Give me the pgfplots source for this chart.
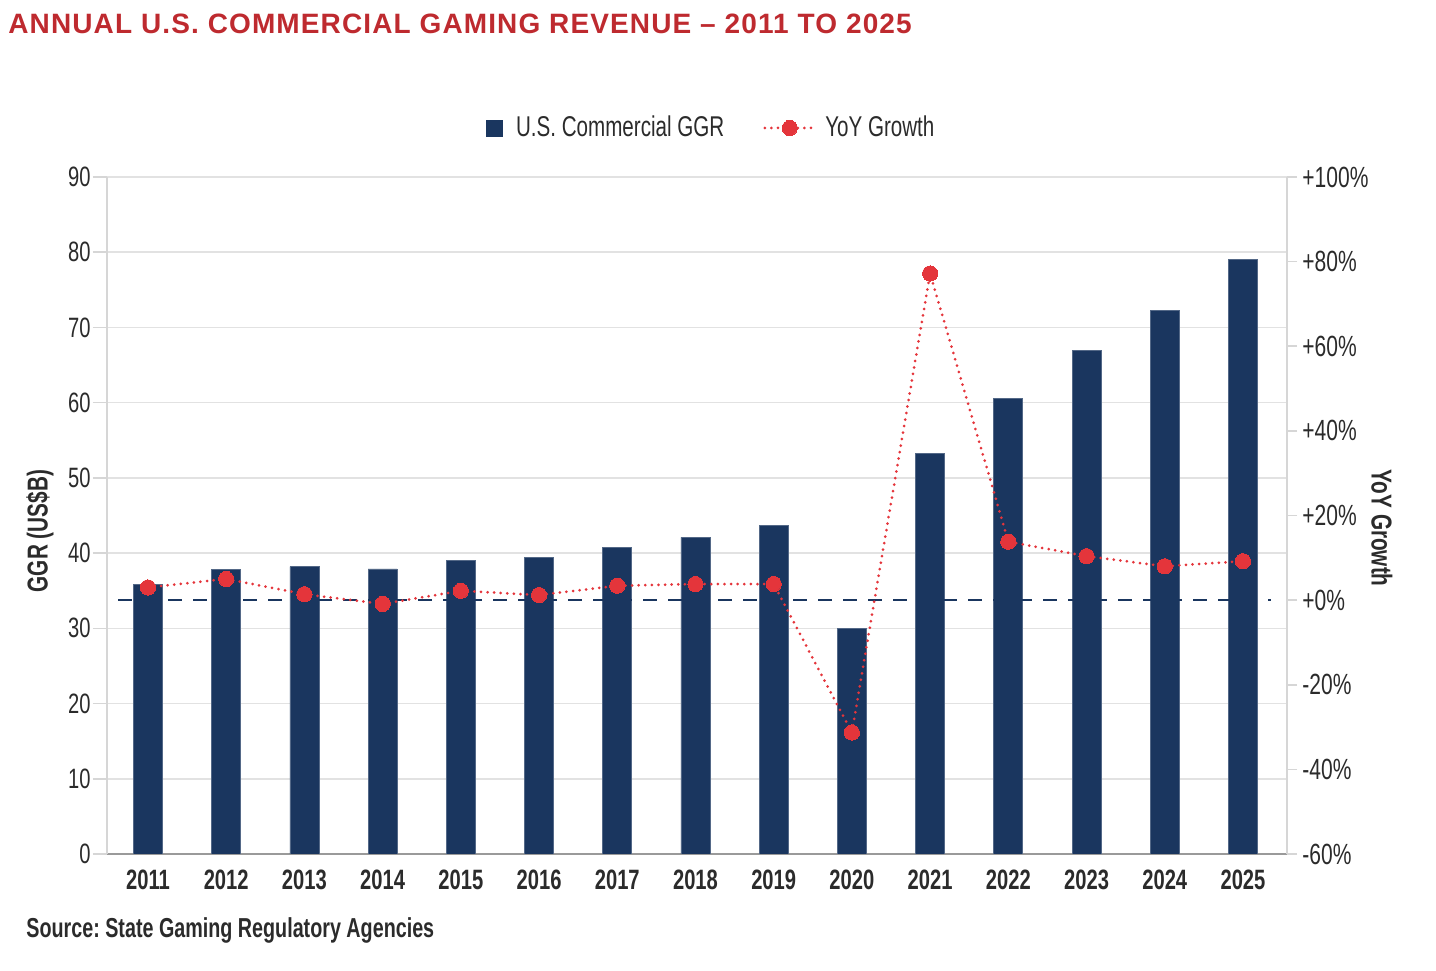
\documentclass[border=0pt]{standalone}
\usepackage{fontspec}
\setmainfont{Liberation Sans}[FakeStretch=0.72]
\newfontfamily\titlefont{Liberation Sans}[LetterSpace=4.0]
\usepackage{pgfplots}
\usepackage{pgfplotstable}
\pgfplotsset{compat=1.18}
\definecolor{navy}{HTML}{1A365F}
\definecolor{redline}{HTML}{E4353B}
\definecolor{titlered}{HTML}{BE2A2F}
\definecolor{txt}{HTML}{2B2B2B}
\definecolor{gridc}{HTML}{E2E2E2}
\definecolor{axisc}{HTML}{D6D6D6}
\definecolor{botc}{HTML}{9A9A9A}

\pgfplotsset{
  linelegend/.style={legend image code/.code={\draw[##1, mark repeat=2, mark phase=2] plot coordinates {(0pt,0pt) (12.5pt,0pt) (25pt,0pt)}; \path (27.5pt,0pt);}},
  barlegend/.style={legend image code/.code={\fill[navy] (0pt,-4pt) rectangle (8pt,4pt); \path (12.5pt,0pt);}},
}

\pgfplotstableread{
x ggr yoy
0 35.8 3.0
1 37.8 5.0
2 38.2 1.4
3 37.9 -0.9
4 39.0 2.2
5 39.4 1.2
6 40.7 3.4
7 42.1 3.8
8 43.7 3.8
9 30.0 -31.3
10 53.2 77.2
11 60.6 13.8
12 66.9 10.4
13 72.3 8.0
14 79.0 9.2
}\data

\begin{document}
\frenchspacing
\begin{tikzpicture}[font=\fontsize{14}{16}\selectfont]
\useasboundingbox (0,0) rectangle (718pt,485pt);
\node[anchor=west, inner sep=0pt, text=titlered, font=\titlefont\bfseries\fontsize{14}{16}\selectfont] at (4pt,473pt) {ANNUAL U.S. COMMERCIAL GAMING REVENUE – 2011 TO 2025};
\node[anchor=west, inner sep=0pt, text=txt, font=\bfseries\fontsize{13.7}{16}\selectfont] at (13pt,20pt) {Source: State Gaming Regulatory Agencies};

\begin{axis}[
  at={(53.5pt,58pt)}, anchor=south west,
  scale only axis, width=590pt, height=338.5pt,
  xmin=-0.524, xmax=14.563, ymin=0, ymax=90,
  ytick={0,10,...,90},
  xtick={0,...,14},
  xticklabels={2011,2012,2013,2014,2015,2016,2017,2018,2019,2020,2021,2022,2023,2024,2025},
  axis x line*=bottom, axis y line*=left,
  x axis line style={botc, line width=0.8pt},
  y axis line style={axisc, line width=0.8pt},
  ymajorgrids, grid style={gridc, line width=0.8pt},
  xtick style={draw=none},
  ytick style={axisc, line width=0.8pt},
  tick align=outside, major tick length=7pt,
  /pgf/number format/assume math mode=true,
  tick label style={font=\fontsize{14}{16}\selectfont, text=txt},
  xticklabel style={font=\bfseries\fontsize{14}{16}\selectfont, yshift=2.5pt},
  yticklabel style={inner sep=1pt},
  ylabel={GGR (US\$B)},
  ylabel style={font=\bfseries\fontsize{14.4}{16}\selectfont, text=txt, at={(axis description cs:-0.0568,0.477)}, anchor=center},
]
\addplot[ybar, bar width=14.5pt, fill=navy, draw=navy!75!white, line width=0.4pt] table[x=x, y=ggr] {\data};
\end{axis}

\begin{axis}[
  at={(53.5pt,58pt)}, anchor=south west,
  scale only axis, width=590pt, height=338.5pt,
  xmin=-0.524, xmax=14.563, ymin=-60, ymax=100,
  axis x line=none, axis y line*=right,
  y axis line style={axisc, line width=0.8pt},
  ytick={-60,-40,...,100},
  yticklabels={-60\%,-40\%,-20\%,+0\%,+20\%,+40\%,+60\%,+80\%,+100\%},
  ytick style={axisc, line width=0.8pt},
  tick align=outside, major tick length=5pt,
  tick label style={font=\fontsize{14.6}{16}\selectfont, text=txt},
  yticklabel style={inner sep=2.5pt},
  ylabel={YoY Growth},
  ylabel style={font=\bfseries\fontsize{14.4}{16}\selectfont, text=txt, rotate=180, at={(axis description cs:1.0805,0.4815)}, anchor=center},
  legend columns=2,
  legend style={at={(0.513,1.0724)}, anchor=center, draw=none, fill=none,
    font=\fontsize{14.3}{16}\selectfont, text=txt,
    /tikz/every even column/.append style={column sep=17.5pt}},
]
\addlegendimage{barlegend}
\addlegendentry{U.S. Commercial GGR}
\addplot[navy, line width=1pt, dash pattern=on 7pt off 5.5pt, forget plot] coordinates {(-0.38,0) (14.36,0)};
\addplot[redline, line width=1.5pt, line cap=round, dash pattern=on 0pt off 3.3pt,
  mark=*, mark size=3.8pt, mark options={solid, fill=redline, draw=redline, line width=0pt},
  linelegend] table[x=x, y=yoy] {\data};
\addlegendentry{YoY Growth}
\end{axis}
\end{tikzpicture}
\end{document}
